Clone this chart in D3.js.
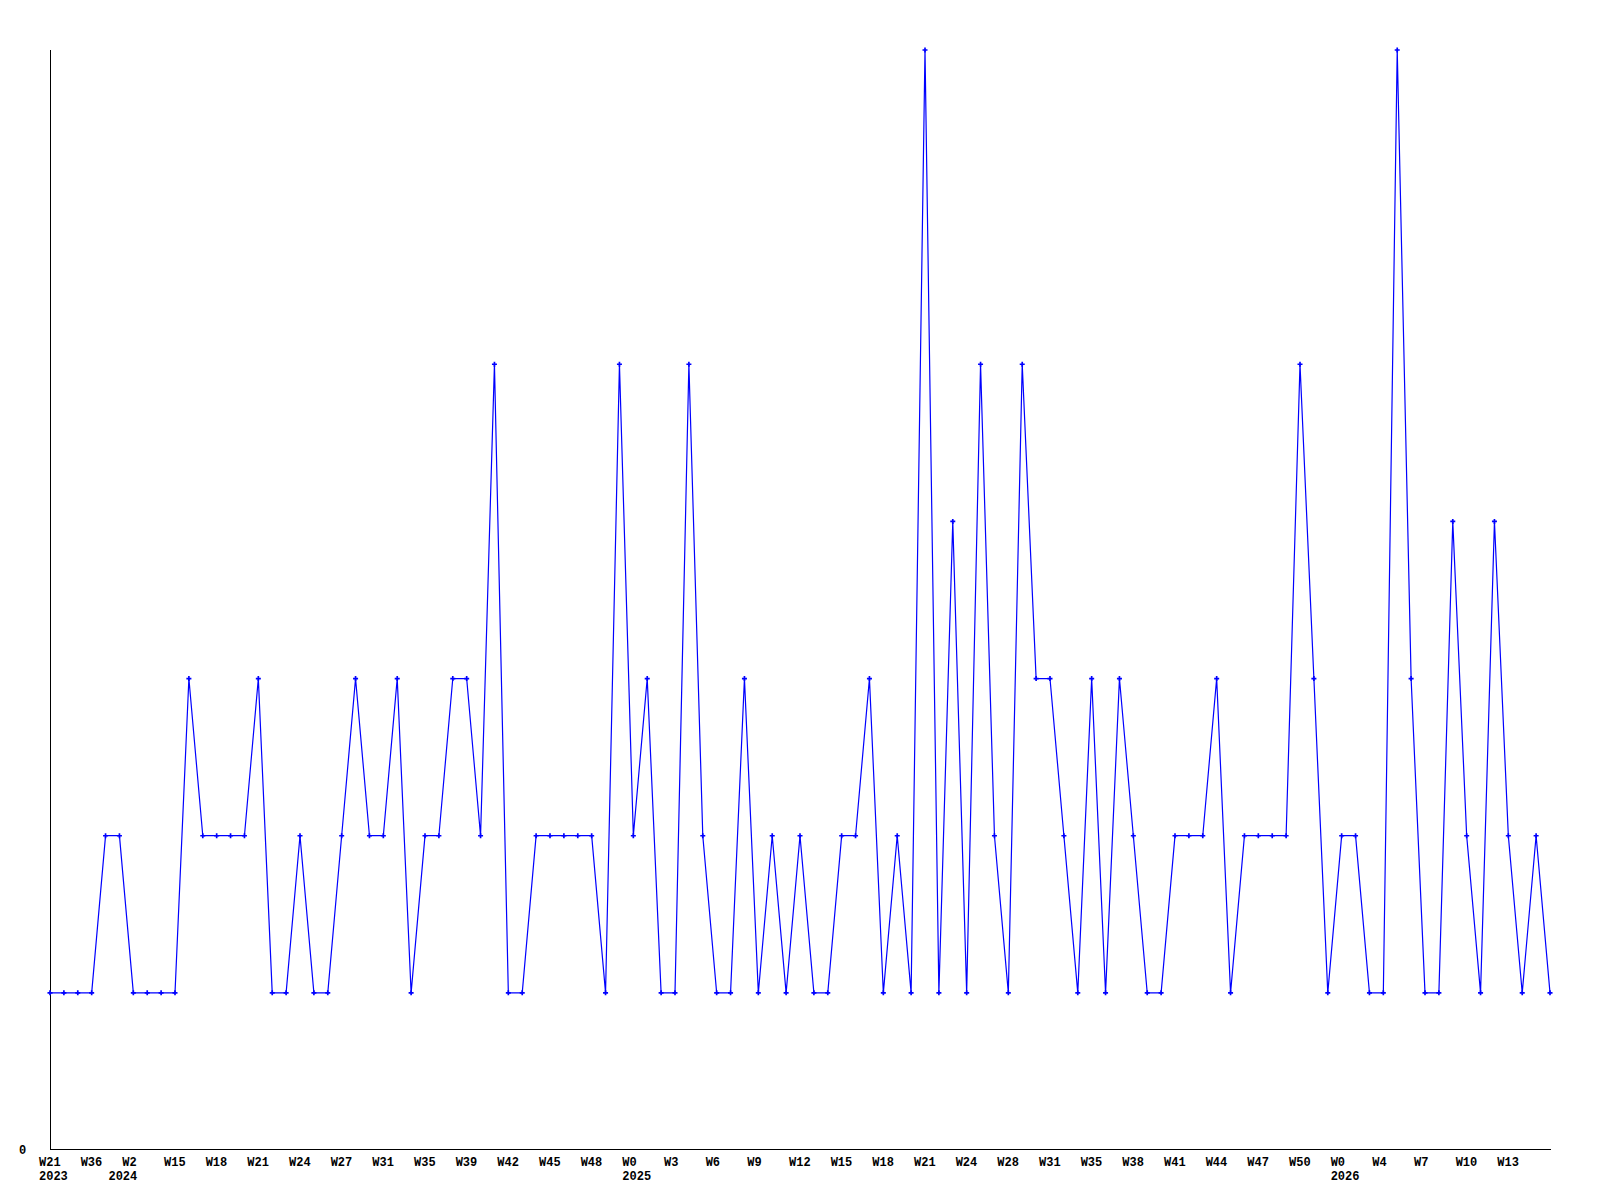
<!DOCTYPE html>
<html>
<head>
<meta charset="utf-8">
<script src="https://cdn.jsdelivr.net/npm/d3@7"></script>
<style>
    body { margin: 0; background: #fff; }
    svg text { font-family: "Liberation Mono", "DejaVu Sans Mono", monospace; font-weight: bold; font-size: 12px; fill: #000; }
</style>
</head>
<body>
<svg id="chart" width="1600" height="1200"></svg>
<script>
// one value per week, in order
let counts = [
    1, 1, 1, 1, 2, 2, 1, 1, 1, 1,
    3, 2, 2, 2, 2, 3, 1, 1, 2, 1,
    1, 2, 3, 2, 2, 3, 1, 2, 2, 3,
    3, 2, 5, 1, 1, 2, 2, 2, 2, 2,
    1, 5, 2, 3, 1, 1, 5, 2, 1, 1,
    3, 1, 2, 1, 2, 1, 1, 2, 2, 3,
    1, 2, 1, 7, 1, 4, 1, 5, 2, 1,
    5, 3, 3, 2, 1, 3, 1, 3, 2, 1,
    1, 2, 2, 2, 3, 1, 2, 2, 2, 2,
    5, 3, 1, 2, 2, 1, 1, 7, 3, 1,
    1, 4, 2, 1, 4, 2, 1, 2, 1
];

// week labels shown under every third point
let tickStep = 3;
let weekLabels = ["W21", "W36", "W2", "W15", "W18", "W21", "W24", "W27", "W31", "W35",
    "W39", "W42", "W45", "W48", "W0", "W3", "W6", "W9", "W12", "W15",
    "W18", "W21", "W24", "W28", "W31", "W35", "W38", "W41", "W44", "W47",
    "W50", "W0", "W4", "W7", "W10", "W13"];

// year labels: point index where each year starts
let yearIndex = [0, 5, 42, 93];
let yearLabels = ["2023", "2024", "2025", "2026"];

let yMax = 7;
let yTicks = [0];

let svg = d3.select("#chart");
let plotLeft = 50, plotRight = 1550, plotTop = 50, plotBottom = 1150;

let x = d3.scaleLinear().domain([0, counts.length - 1]).range([plotLeft, plotRight]);
let y = d3.scaleLinear().domain([0, yMax]).range([plotBottom, plotTop]);

// axes lines
svg.append("line")
    .attr("x1", plotLeft + 0.5).attr("x2", plotLeft + 0.5)
    .attr("y1", plotTop).attr("y2", plotBottom)
    .attr("stroke", "black").attr("stroke-width", 1);
svg.append("line")
    .attr("x1", plotLeft).attr("x2", plotRight + 1)
    .attr("y1", plotBottom - 0.5).attr("y2", plotBottom - 0.5)
    .attr("stroke", "black").attr("stroke-width", 1);

// y label(s)
svg.selectAll("text.ylab")
    .data(yTicks)
    .enter()
    .append("text")
    .attr("class", "ylab")
    .attr("x", 19)
    .attr("y", function (d) { return y(d) + 4; })
    .text(function (d) { return d; });

// week labels
svg.selectAll("text.week")
    .data(weekLabels)
    .enter()
    .append("text")
    .attr("class", "week")
    .attr("x", function (d, i) { return x(i * tickStep) - 11; })
    .attr("y", 1166)
    .text(function (d) { return d; });

// year labels
svg.selectAll("text.year")
    .data(yearLabels)
    .enter()
    .append("text")
    .attr("class", "year")
    .attr("x", function (d, i) { return x(yearIndex[i]) - 11; })
    .attr("y", 1180)
    .text(function (d) { return d; });

// the series line
let line = d3.line()
    .x(function (d, i) { return x(i); })
    .y(function (d) { return y(d); });

svg.append("path")
    .datum(counts)
    .attr("d", line)
    .attr("fill", "none")
    .attr("stroke", "#0000ff")
    .attr("stroke-width", 1.2);

// point markers
svg.selectAll("path.dot")
    .data(counts)
    .enter()
    .append("path")
    .attr("class", "dot")
    .attr("d", d3.symbol().type(d3.symbolCross).size(14))
    .attr("transform", function (d, i) { return "translate(" + x(i) + "," + y(d) + ")"; })
    .attr("fill", "#0000ff");
</script>
</body>
</html>
